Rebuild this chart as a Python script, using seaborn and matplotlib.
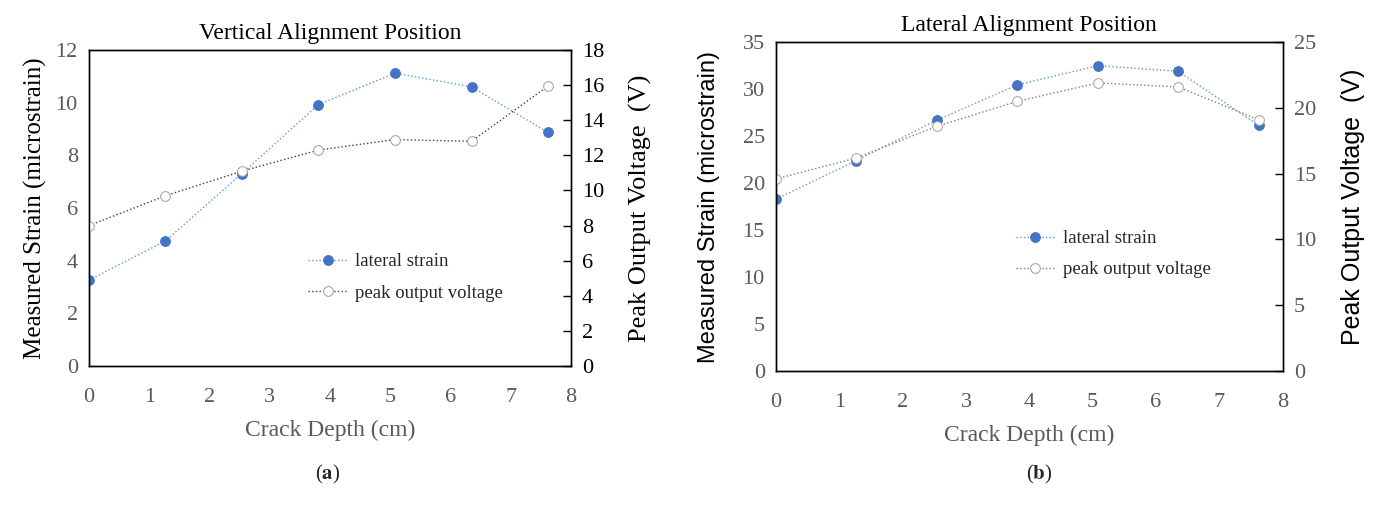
import numpy as np
import seaborn as sns
import matplotlib.pyplot as plt

# crack depth in cm (0.5 inch steps)
depth = [0, 1.27, 2.54, 3.81, 5.08, 6.35, 7.62]

vert_strain = [3.26, 4.75, 7.31, 9.93, 11.12, 10.6, 8.87]
vert_voltage = [8.0, 9.7, 11.1, 12.3, 12.9, 12.8, 15.95]

lat_strain = [18.3, 22.4, 26.7, 30.45, 32.5, 31.9, 26.15]
lat_voltage = [14.6, 16.2, 18.6, 20.5, 21.9, 21.6, 19.1]

sns.set_theme(style="white")
plt.rcParams['font.family'] = ['Liberation Serif', 'DejaVu Serif']
plt.rcParams['mathtext.fontset'] = 'stix'

TICK_GRAY = '#595959'
BLUE_LINE = '#5B9BD5'
BLUE_MARK = '#4472C4'


def draw_panel(ax, strain, voltage, title, ylim, vlim, vstep, ystep,
               label_font, label_size, pads, vtick_color, vline_color,
               legend_pos):
    axr = ax.twinx()
    sns.lineplot(x=depth, y=strain, ax=ax, color=BLUE_LINE, linestyle=':',
                 linewidth=1.0, marker='o', markersize=7,
                 markerfacecolor=BLUE_MARK, markeredgecolor=BLUE_MARK,
                 label='lateral strain', legend=False)
    sns.lineplot(x=depth, y=voltage, ax=axr, color=vline_color, linestyle=':',
                 linewidth=1.0, marker='o', markersize=7,
                 markerfacecolor='white', markeredgecolor='#A5A5A5',
                 label='peak output voltage', legend=False)

    ax.set_xlim(0, 8)
    ax.set_ylim(*ylim)
    axr.set_ylim(*vlim)
    ax.set_xticks(range(0, 9))
    ax.set_yticks(np.arange(ylim[0], ylim[1] + 0.1, ystep))
    axr.set_yticks(np.arange(vlim[0], vlim[1] + 0.1, vstep))

    ax.tick_params(axis='x', direction='in', length=6, width=1, colors='black',
                   labelcolor=TICK_GRAY, labelsize=16, pad=16)
    ax.tick_params(axis='y', length=0, labelcolor=TICK_GRAY, labelsize=16, pad=8)
    axr.tick_params(axis='y', direction='in', length=6, width=1, colors='black',
                    labelcolor=vtick_color, labelsize=16, pad=8)

    for a in (ax, axr):
        for s in a.spines.values():
            s.set_color('black')
            s.set_linewidth(1.0)

    ax.set_title(title, fontsize=17, color='black', pad=8)
    ax.set_xlabel('Crack Depth (cm)', fontsize=17, color=TICK_GRAY, labelpad=9)
    ax.set_ylabel('Measured Strain (microstrain)', fontsize=label_size,
                  color='black', family=label_font, labelpad=pads[0])
    axr.set_ylabel('Peak Output Voltage  (V)', fontsize=label_size + 1,
                   color='black', family=label_font, labelpad=pads[1])

    h1, l1 = ax.get_legend_handles_labels()
    h2, l2 = axr.get_legend_handles_labels()
    axr.legend(h1 + h2, l1 + l2, loc='upper left', bbox_to_anchor=legend_pos,
               frameon=False, fontsize=13.5, handlelength=2.1, labelspacing=0.75,
               handletextpad=0.4)


fig = plt.figure(figsize=(13.77, 5.13), dpi=100)
ax1 = fig.add_axes([0.0646, 0.2865, 0.350, 0.616])
ax2 = fig.add_axes([0.5635, 0.2768, 0.368, 0.641])

draw_panel(ax1, vert_strain, vert_voltage, 'Vertical Alignment Position',
           (0, 12), (0, 18), 2, 2, ['Liberation Serif'], 18, (6, 18),
           'black', '#404040', (0.42, 0.41))
draw_panel(ax2, lat_strain, lat_voltage, 'Lateral Alignment Position',
           (0, 35), (0, 25), 5, 5, ['Liberation Sans'], 17, (16, 18),
           TICK_GRAY, '#7F7F7F', (0.44, 0.48))

fig.text(0.238, 0.065, r'($\mathbf{a}$)', ha='center', fontsize=15)
fig.text(0.755, 0.065, r'($\mathbf{b}$)', ha='center', fontsize=15)

fig.savefig('out.png', dpi=100)
